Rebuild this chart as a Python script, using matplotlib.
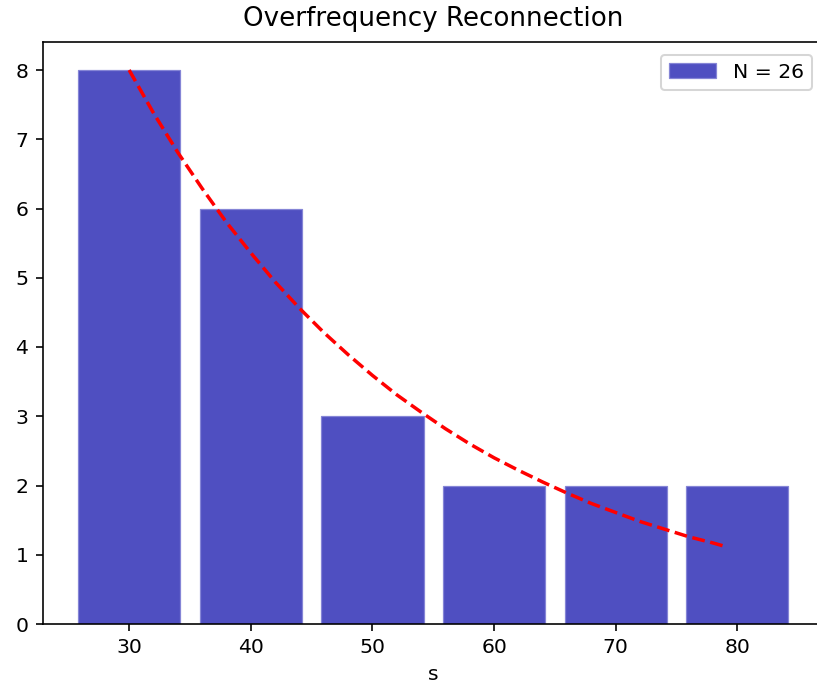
import matplotlib
matplotlib.use("Agg")
import matplotlib.pyplot as plt

# Data
categories = [30, 40, 50, 60, 70, 80]
counts = [8, 6, 3, 2, 2, 2]
legend_label = "N = 26"

# Fitted trend curve values
curve_x = [30, 32, 34, 36, 38, 40, 42, 44, 46, 48, 50, 52, 54, 56, 58, 60,
           62, 64, 66, 68, 70, 72, 74, 76, 78, 79]
curve_y = [8.00, 7.38, 6.81, 6.29, 5.80, 5.36, 4.94, 4.56, 4.21, 3.89, 3.59,
           3.31, 3.06, 2.82, 2.60, 2.40, 2.22, 2.05, 1.89, 1.74, 1.61, 1.48,
           1.37, 1.26, 1.17, 1.12]

dpi = 147
fig = plt.figure(figsize=(817 / dpi, 690 / dpi), dpi=dpi)
ax = fig.add_axes([42.5 / 817, 66 / 690, (824 - 42.5) / 817, (624 - 42.3) / 690])

ax.bar(categories, counts, width=8.4, color="#4f4fc1", edgecolor="#8585d6",
       linewidth=0.6, label=legend_label)
ax.plot(curve_x, curve_y, color="red", linestyle="--", linewidth=1.7)

ax.set_title("Overfrequency Reconnection", fontsize=12.8, pad=8)
ax.set_xlabel("s")
ax.set_xticks(categories)
ax.set_yticks(range(0, 9))
ax.spines["right"].set_visible(False)
ax.legend(loc="upper right", borderaxespad=0.6, handlelength=2.3)

fig.savefig("out.png", dpi=dpi)
